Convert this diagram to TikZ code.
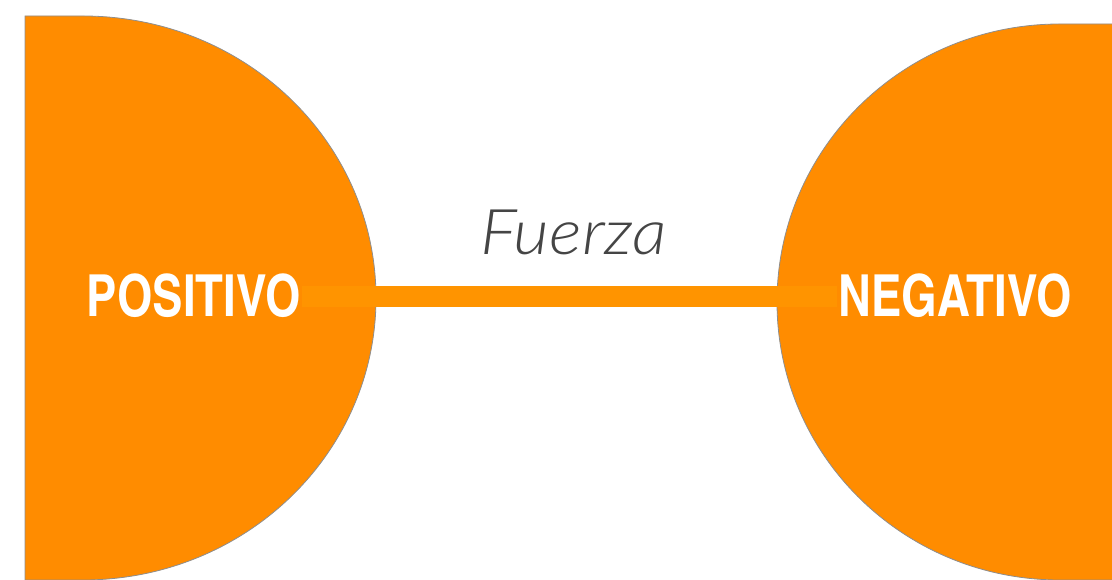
\documentclass[tikz,border=0pt]{standalone}
\usepackage{fontspec}
\newfontfamily\condfont{texgyreheroscn-bold.otf}[FakeStretch=0.96]
\newfontfamily\labelfont{Lato Light Italic}[FakeStretch=1.1]
\definecolor{polorange}{HTML}{FF8C00}
\definecolor{barorange}{HTML}{FF9400}
\definecolor{edgegray}{HTML}{8E8E8E}
\definecolor{textgray}{HTML}{454545}
\begin{document}
\begin{tikzpicture}[x=1pt,y=1pt,
    polo/.style={fill=polorange,draw=edgegray,line width=0.8pt},
    polotext/.style={text=white,inner sep=1pt,anchor=base,font=\condfont\fontsize{58}{58}\selectfont},
    bar/.style={barorange,line width=21pt}]
  \clip (0,0) rectangle (1112,580);
  % the two poles
  \draw [polo] (25,564) -- (83,564) arc [start angle=90, end angle=-90, x radius=293, y radius=282] -- (25,0) -- cycle;
  \draw [polo] (1120,556) -- (1060,556) arc [start angle=90, end angle=270, x radius=283, y radius=278] -- (1120,0) -- cycle;
  \node [polotext] (pos) at (194,263) {POSITIVO};
  \node [polotext] (neg) at (955,263) {NEGATIVO};
  % force between them
  \draw [bar] (pos.east) -- node [above=31pt, xshift=4pt, inner sep=0pt, text=textgray, font=\labelfont\fontsize{63}{63}\selectfont] (force) {Fuerza} (neg.west);
\end{tikzpicture}
\end{document}
